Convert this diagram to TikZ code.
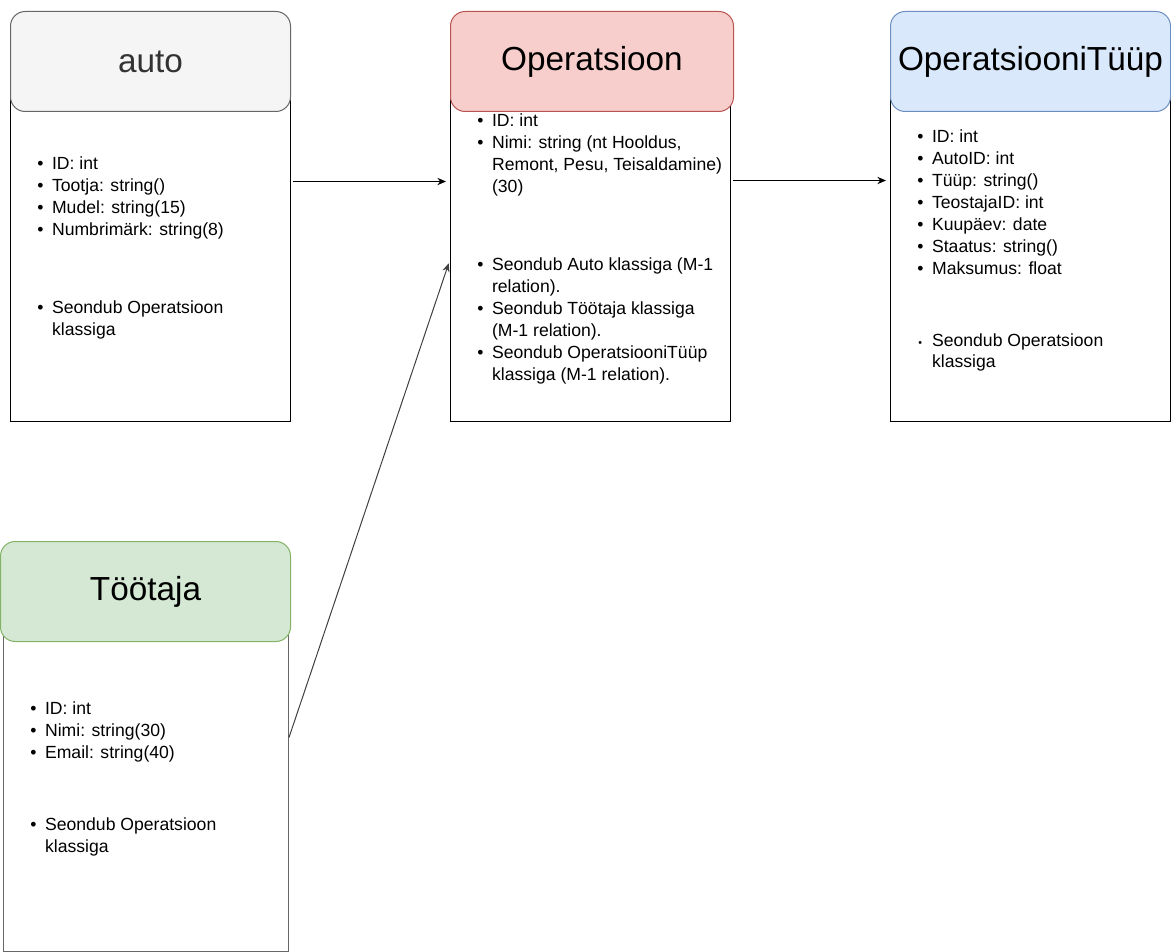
\documentclass[tikz,border=0pt]{standalone}
\usepackage{fontspec}
\setmainfont{Liberation Sans}
\usetikzlibrary{arrows.meta}

\definecolor{autofill}{HTML}{F5F5F5}
\definecolor{autoline}{HTML}{666666}
\definecolor{autotext}{HTML}{333333}
\definecolor{opfill}{HTML}{F8CECC}
\definecolor{opline}{HTML}{B85450}
\definecolor{tyypfill}{HTML}{DAE8FC}
\definecolor{tyypline}{HTML}{6C8EBF}
\definecolor{tootfill}{HTML}{D5E8D4}
\definecolor{tootline}{HTML}{82B366}

\newcommand{\attrlist}[1]{\begin{tabular}[t]{@{}c@{\hspace{6.5pt}}l@{}}#1\end{tabular}}
\newcommand{\smallbul}{\ooalign{\hphantom{\textbullet}\cr\hfil{\footnotesize\textbullet}\hfil\cr}}

\begin{document}
\begin{tikzpicture}[x=0.75pt,y=0.75pt,yscale=-1,xscale=1,
  classbody/.style={draw, line width=0.75pt, fill=white, anchor=north west, minimum width=210pt, minimum height=270pt, inner sep=0pt},
  classhead/.style={draw, line width=0.75pt, rounded corners=11pt, anchor=north west, minimum width=210pt, minimum height=75pt, inner sep=0pt, font=\fontsize{25pt}{30pt}\selectfont},
  attrs/.style={anchor=base west, inner sep=0pt, font=\fontsize{13.2pt}{16.5pt}\selectfont},
  conn/.style={line width=0.75pt, -{Stealth[length=6.5pt,width=5.5pt]}, shorten >=3pt}]
\useasboundingbox (0,0) rectangle (1171,952);

%Class bodies
\node [classbody] (autobody) at (10,61) {};
\node [classbody] (opbody) at (450,61) {};
\node [classbody] (tyypbody) at (890,61) {};
\node [classbody, draw=autoline, minimum width=213.75pt] (tootbody) at (3,591) {};

%Class headers
\node [classhead, fill=autofill, draw=autoline, text=autotext] (autohead) at (10,11) {auto};
\node [classhead, fill=opfill, draw=opline, minimum width=212.25pt] (ophead) at (450,11) {Operatsioon};
\node [classhead, fill=tyypfill, draw=tyypline] (tyyphead) at (890,11) {OperatsiooniTüüp};
\node [classhead, fill=tootfill, draw=tootline, minimum width=217.5pt] (toothead) at (0,541) {Töötaja};

% Text Node
\node [attrs] (autoattr) at (37,170) {\attrlist{%
  \textbullet & ID: int\\
  \textbullet & Tootja: string()\\
  \textbullet & Mudel: string(15)\\
  \textbullet & Numbrimärk: string(8)}};
% Text Node
\node [attrs] (autorel) at (37,314) {\attrlist{%
  \textbullet & Seondub Operatsioon\\
  & klassiga}};
% Text Node
\node [attrs] (opattr) at (477,127) {\attrlist{%
  \textbullet & ID: int\\
  \textbullet & Nimi: string (nt Hooldus,\\
  & Remont, Pesu, Teisaldamine)\\
  & (30)}};
% Text Node
\node [attrs] (oprel) at (477,271) {\attrlist{%
  \textbullet & Seondub Auto klassiga (M-1\\
  & relation).\\
  \textbullet & Seondub Töötaja klassiga\\
  & (M-1 relation).\\
  \textbullet & Seondub OperatsiooniTüüp\\
  & klassiga (M-1 relation).}};
% Text Node
\node [attrs] (tyypattr) at (917,143) {\attrlist{%
  \textbullet & ID: int\\
  \textbullet & AutoID: int\\
  \textbullet & Tüüp: string()\\
  \textbullet & TeostajaID: int\\
  \textbullet & Kuupäev: date\\
  \textbullet & Staatus: string()\\
  \textbullet & Maksumus: float}};
% Text Node
\node [attrs] (tyyprel) at (917,346) {\attrlist{%
  \smallbul & Seondub Operatsioon\\
  & klassiga}};
% Text Node
\node [attrs] (tootattr) at (30,714) {\attrlist{%
  \textbullet & ID: int\\
  \textbullet & Nimi: string(30)\\
  \textbullet & Email: string(40)}};
% Text Node
\node [attrs] (tootrel) at (30,830) {\attrlist{%
  \textbullet & Seondub Operatsioon\\
  & klassiga}};

%Connectors
\draw [conn, shorten <=1.5pt] ([yshift=-45pt]autobody.east) -- ([yshift=-45pt]opbody.west);
\draw [conn, shorten <=1.5pt] ([yshift=-45.75pt]opbody.east) -- ([yshift=-45.75pt]tyypbody.west);
\draw [conn, draw=black!75] ([yshift=-25.5pt]tootbody.east) -- ([yshift=13.5pt]opbody.west);

\end{tikzpicture}
\end{document}
